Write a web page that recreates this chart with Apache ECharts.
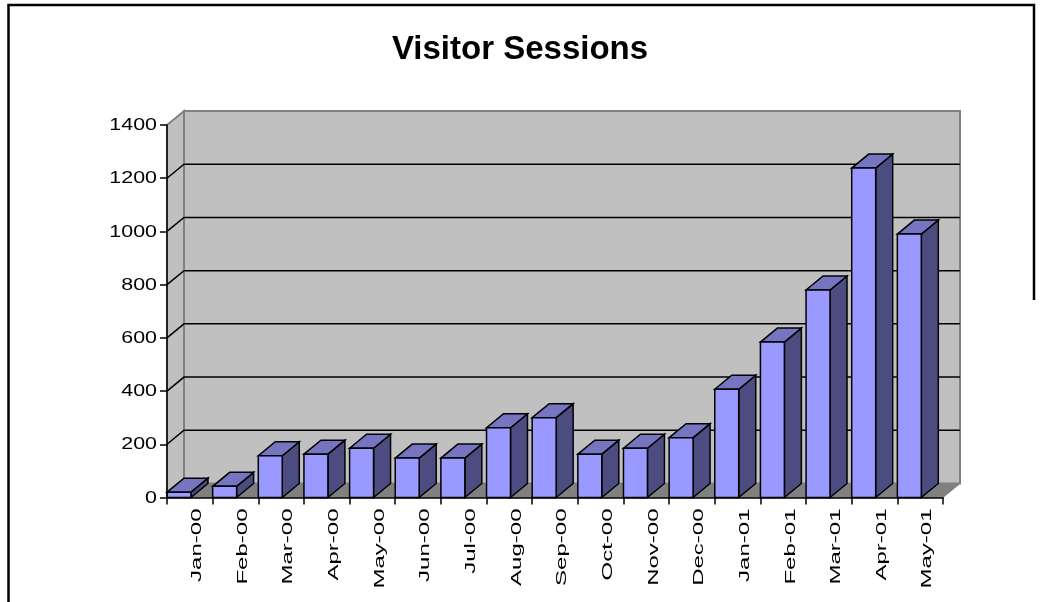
<!DOCTYPE html>
<html><head><meta charset="utf-8">
<script src="https://cdn.jsdelivr.net/npm/echarts@6/dist/echarts.min.js"></script>
<style>html,body{margin:0;padding:0;background:#fff}#c{width:1040px;height:602px}</style>
</head><body><div id="c"></div>
<script>
// ---- data ----
const chartTitle = 'Visitor Sessions';
const categories = ['Jan-00','Feb-00','Mar-00','Apr-00','May-00','Jun-00','Jul-00','Aug-00','Sep-00','Oct-00','Nov-00','Dec-00','Jan-01','Feb-01','Mar-01','Apr-01','May-01'];
const sessions = [20, 42, 157, 163, 185, 148, 148, 262, 300, 163, 185, 225, 407, 584, 780, 1238, 990];
const yTickValues = [0, 200, 400, 600, 800, 1000, 1200, 1400];

// ---- style ----
const DX = 17, DY = -14;          // 3D depth offset (px)
const BAR_FRAC = 0.525;           // front face width / category band
const FONT = '"Liberation Sans", Arial, sans-serif';
const yMin = yTickValues[0], yMax = yTickValues[yTickValues.length - 1];
const yStep = yTickValues[1] - yTickValues[0];

function wallRender(params, api) {
  const n = categories.length;
  const band = api.size([1, 0])[0];
  const x0 = api.coord([0, yMin])[0] - band / 2;
  const x1 = api.coord([n - 1, yMin])[0] + band / 2;
  const yb = api.coord([0, yMin])[1];
  const yt = api.coord([0, yMax])[1];
  const ch = [];
  ch.push({type: 'polygon', shape: {points: [[x0, yt], [x0 + DX, yt + DY], [x0 + DX, yb + DY], [x0, yb]]},
    style: {fill: '#C0C0C0', stroke: '#808080', lineWidth: 2}});
  ch.push({type: 'rect', shape: {x: x0 + DX, y: yt + DY, width: x1 - x0, height: yb - yt},
    style: {fill: '#C0C0C0', stroke: '#808080', lineWidth: 2}});
  yTickValues.forEach(function (v) {
    if (v === yMin || v === yMax) return;
    const y = api.coord([0, v])[1];
    ch.push({type: 'polyline', shape: {points: [[x0, y], [x0 + DX, y + DY], [x1 + DX, y + DY]]},
      style: {fill: null, stroke: '#000', lineWidth: 1.5}});
  });
  ch.push({type: 'polygon', shape: {points: [[x0, yb], [x1, yb], [x1 + DX, yb + DY], [x0 + DX, yb + DY]]},
    style: {fill: '#808080', stroke: '#808080', lineWidth: 1}});
  return {type: 'group', children: ch};
}

function barRender(params, api) {
  const i = api.value(0), v = api.value(1);
  const band = api.size([1, 0])[0];
  const c0 = api.coord([i, 0]);
  const c1 = api.coord([i, v]);
  const xl = c0[0] - band / 2;
  const w = band * BAR_FRAC;
  const xr = xl + w;
  const yb = c0[1], yt = c1[1];
  const st = {stroke: '#000', lineWidth: 1.5, lineJoin: 'miter'};
  return {type: 'group', children: [
    {type: 'polygon', shape: {points: [[xr, yt], [xr + DX, yt + DY], [xr + DX, yb + DY], [xr, yb]]},
      style: Object.assign({fill: '#4C4C80'}, st)},
    {type: 'polygon', shape: {points: [[xl, yt], [xl + DX, yt + DY], [xr + DX, yt + DY], [xr, yt]]},
      style: Object.assign({fill: '#7575C2'}, st)},
    {type: 'rect', shape: {x: xl, y: yt, width: w, height: yb - yt},
      style: Object.assign({fill: '#9999FF'}, st)}
  ]};
}

// category labels: rotated, read bottom-to-top, wide glyphs
function xLabelRender(params, api) {
  const i = api.value(0);
  const c = api.coord([i, yMin]);
  return {type: 'text', x: c[0] + DX * 0.42, y: c[1] + 11, rotation: Math.PI / 2,
    scaleX: 1.6, scaleY: 1,
    style: {text: categories[i], fontFamily: FONT, fontSize: 15, fill: '#000',
      align: 'right', verticalAlign: 'middle'}};
}
// value labels: wide glyphs
function yLabelRender(params, api) {
  const v = api.value(1);
  const c = api.coord([0, v]);
  const band = api.size([1, 0])[0];
  return {type: 'text', x: c[0] - band / 2 - 10, y: c[1] + 0.5, scaleX: 1.26, scaleY: 1,
    style: {text: String(v), fontFamily: FONT, fontSize: 17, fill: '#000',
      align: 'right', verticalAlign: 'middle'}};
}

const chart = echarts.init(document.getElementById('c'), null, {renderer: 'canvas'});
chart.setOption({
  animation: false,
  backgroundColor: '#fff',
  title: {text: chartTitle, left: 'center', top: 28,
    textStyle: {fontFamily: FONT, fontSize: 33, fontWeight: 'bold', color: '#000'}},
  graphic: [{type: 'polyline', shape: {points: [[8.5, 620], [8.5, 5], [1034, 5], [1034, 300]]},
    style: {fill: 'none', stroke: '#000', lineWidth: 2.5}, silent: true}],
  grid: {left: 167, right: 97, top: 125, bottom: 104.5, containLabel: false},
  xAxis: {
    type: 'category', data: categories, boundaryGap: true, z: 10,
    axisLine: {show: true, lineStyle: {color: '#000', width: 1.5}},
    axisTick: {show: true, interval: 0, alignWithLabel: false, length: 7, lineStyle: {color: '#000', width: 1.5}},
    axisLabel: {show: false},
    splitLine: {show: false}
  },
  yAxis: {
    type: 'value', min: yMin, max: yMax, interval: yStep, z: 10,
    axisLine: {show: true, lineStyle: {color: '#000', width: 1.5}},
    axisTick: {show: true, length: 7, lineStyle: {color: '#000', width: 1.5}},
    axisLabel: {show: false},
    splitLine: {show: false}
  },
  series: [
    {type: 'custom', name: 'walls', data: [[0, 0]], renderItem: wallRender, z: 1, silent: true},
    {type: 'custom', name: 'Sessions', data: sessions.map(function (v, i) { return [i, v]; }),
      renderItem: barRender, z: 3},
    {type: 'custom', name: 'xLabels', data: categories.map(function (c, i) { return [i, yMin]; }),
      renderItem: xLabelRender, z: 5, silent: true},
    {type: 'custom', name: 'yLabels', data: yTickValues.map(function (v) { return [0, v]; }),
      renderItem: yLabelRender, z: 5, silent: true}
  ]
});
</script></body></html>
